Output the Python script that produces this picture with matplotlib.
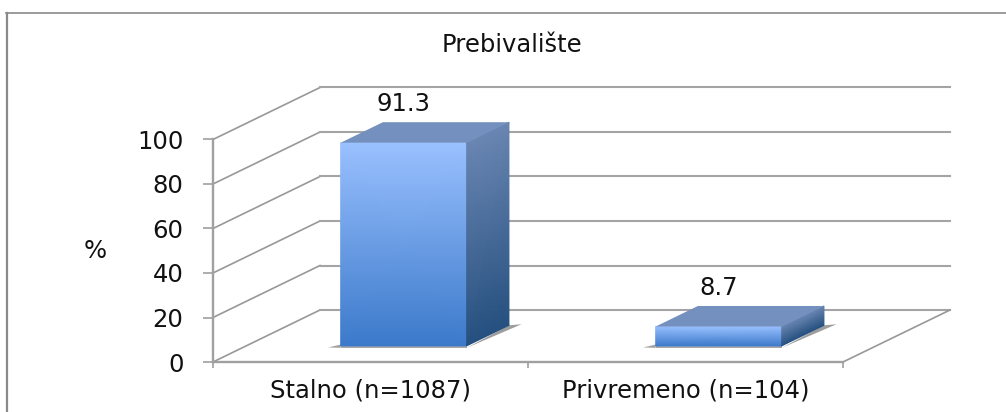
import matplotlib
matplotlib.use("Agg")
import matplotlib.pyplot as plt
import numpy as np
from matplotlib.colors import LinearSegmentedColormap
from matplotlib.lines import Line2D

categories = ["Stalno (n=1087)", "Privremeno (n=104)"]
values = [91.3, 8.7]
value_labels = ["91.3", "8.7"]
y_ticks = [0, 20, 40, 60, 80, 100]
title = "Prebivalište"
y_label = "%"

W, H = 1006, 412
X0, X1, Y0, Y100 = 213, 843, 362, 139.5
DX = 107 / 315      # category units per unit of depth
DY = 52 / 2.225     # percent per unit of depth
D_FRONT, D_BACK = 0.31, 0.705
HALF = 0.2
GRID = "#a4a4a4"
DIAG = "#989898"
TEXT = "#111111"
FS = 17.5

plt.rcParams["font.family"] = ["DejaVu Sans"]
fig = plt.figure(figsize=(W / 100, H / 100), dpi=100, facecolor="white")
ax = fig.add_axes([X0 / W, 1 - Y0 / H, (X1 - X0) / W, (Y0 - Y100) / H])
ax.patch.set_visible(False)


def proj(x, y, d):
    return x + DX * d, y + DY * d


front_cmap = LinearSegmentedColormap.from_list("front", ["#3b79ca", "#9ac0ff"])
side_cmap = LinearSegmentedColormap.from_list("side", ["#25507f", "#6a86b2"])

# walls: depth lines and back grid lines
xl, xr = -0.5, 1.5
for t in y_ticks:
    a = proj(xl, t, 0)
    b = proj(xl, t, 1)
    c = proj(xr, t, 1)
    ax.plot([a[0], b[0]], [a[1], b[1]], color=DIAG, lw=1.2, clip_on=False, zorder=1)
    ax.plot([b[0], c[0]], [b[1], c[1]], color=GRID, lw=1.5, clip_on=False, zorder=1)
a, b = proj(xr, 0, 0), proj(xr, 0, 1)
ax.plot([a[0], b[0]], [a[1], b[1]], color=DIAG, lw=1.2, clip_on=False, zorder=1)

# bars
for i, v in enumerate(values):
    l, r = i - HALF, i + HALF
    # shadows on the floor
    tip = proj(l - 0.04, -0.7, D_FRONT)
    p1, p2 = proj(l, 0.6, D_FRONT), proj(l, -0.9, D_FRONT)
    ax.fill([tip[0], p1[0], p2[0]], [tip[1], p1[1], p2[1]], color="#7c7c7c", alpha=0.7,
            lw=0, clip_on=False, zorder=2)
    s1, s2 = proj(r, -0.9, D_FRONT), proj(r, 0, D_BACK)
    s3 = proj(r + 0.04, 0.5, D_BACK)
    ax.fill([s1[0], s2[0], s3[0]], [s1[1], s2[1], s3[1]], color="#7c7c7c", alpha=0.75,
            lw=0, clip_on=False, zorder=2)
    s4, s5 = proj(l, -0.9, D_FRONT), proj(r, -0.9, D_FRONT)
    s6, s7 = proj(r, 0, D_FRONT), proj(l, 0, D_FRONT)
    ax.fill([s4[0], s5[0], s6[0], s7[0]], [s4[1], s5[1], s6[1], s7[1]], color="#a8a8a8",
            lw=0, clip_on=False, zorder=2)

    # front face
    fx = np.array([[proj(l, 0, D_FRONT)[0], proj(r, 0, D_FRONT)[0]],
                   [proj(l, v, D_FRONT)[0], proj(r, v, D_FRONT)[0]]])
    fy = np.array([[proj(l, 0, D_FRONT)[1], proj(r, 0, D_FRONT)[1]],
                   [proj(l, v, D_FRONT)[1], proj(r, v, D_FRONT)[1]]])
    ax.pcolormesh(fx, fy, np.array([[0.0, 0.0], [1.0, 1.0]]), shading="gouraud",
                  cmap=front_cmap, vmin=0, vmax=1, clip_on=False, zorder=3)
    # side face
    sx = np.array([[proj(r, 0, D_FRONT)[0], proj(r, 0, D_BACK)[0]],
                   [proj(r, v, D_FRONT)[0], proj(r, v, D_BACK)[0]]])
    sy = np.array([[proj(r, 0, D_FRONT)[1], proj(r, 0, D_BACK)[1]],
                   [proj(r, v, D_FRONT)[1], proj(r, v, D_BACK)[1]]])
    ax.pcolormesh(sx, sy, np.array([[0.0, 0.0], [1.0, 1.0]]), shading="gouraud",
                  cmap=side_cmap, vmin=0, vmax=1, clip_on=False, zorder=3)
    # top face
    corners = [proj(l, v, D_FRONT), proj(r, v, D_FRONT), proj(r, v, D_BACK), proj(l, v, D_BACK)]
    ax.fill(*zip(*corners), color="#7490be", lw=0, clip_on=False, zorder=3)
    # value label
    ax.annotate(value_labels[i], xy=proj(i, v, D_FRONT), xytext=(0, 39 * 0.72),
                textcoords="offset points", ha="center", va="center",
                fontsize=FS, color=TEXT, annotation_clip=False, zorder=5)

ax.set_xlim(xl, xr)
ax.set_ylim(0, 100)
for s in ("top", "right"):
    ax.spines[s].set_visible(False)
for s in ("left", "bottom"):
    ax.spines[s].set_color("#a0a0a0")
    ax.spines[s].set_linewidth(1.7)
    ax.spines[s].set_zorder(4)

ax.set_yticks(y_ticks)
ax.set_yticklabels([str(t) for t in y_ticks])
ax.tick_params(axis="y", length=7.2, width=1.2, color="#a0a0a0", pad=14,
               labelsize=FS, labelcolor=TEXT)
ax.set_xticks([-0.5, 0.5, 1.5])
ax.set_xticklabels([])
ax.set_xticks([0, 1], labels=categories, minor=True)
ax.tick_params(axis="x", which="major", length=4.5, width=1.2, color="#a0a0a0")
ax.tick_params(axis="x", which="minor", length=0, pad=12, labelsize=FS, labelcolor=TEXT)

ax.set_ylabel(y_label, rotation=0, fontsize=FS, color=TEXT, ha="center", va="center")
ax.yaxis.set_label_coords((95 - X0) / (X1 - X0), (Y0 - 251) / (Y0 - Y100))
fig.text(512 / W, 1 - 45 / H, title, ha="center", va="center", fontsize=FS, color=TEXT)

# outer frame (left and top only, as in the source image)
fig.add_artist(Line2D([6.5 / W, 6.5 / W], [0, 1 - 13 / H], color="#8a8a8a", lw=1.6))
fig.add_artist(Line2D([6 / W, 1], [1 - 13 / H, 1 - 13 / H], color="#8a8a8a", lw=1.2))

fig.savefig("out.png", dpi=100)
